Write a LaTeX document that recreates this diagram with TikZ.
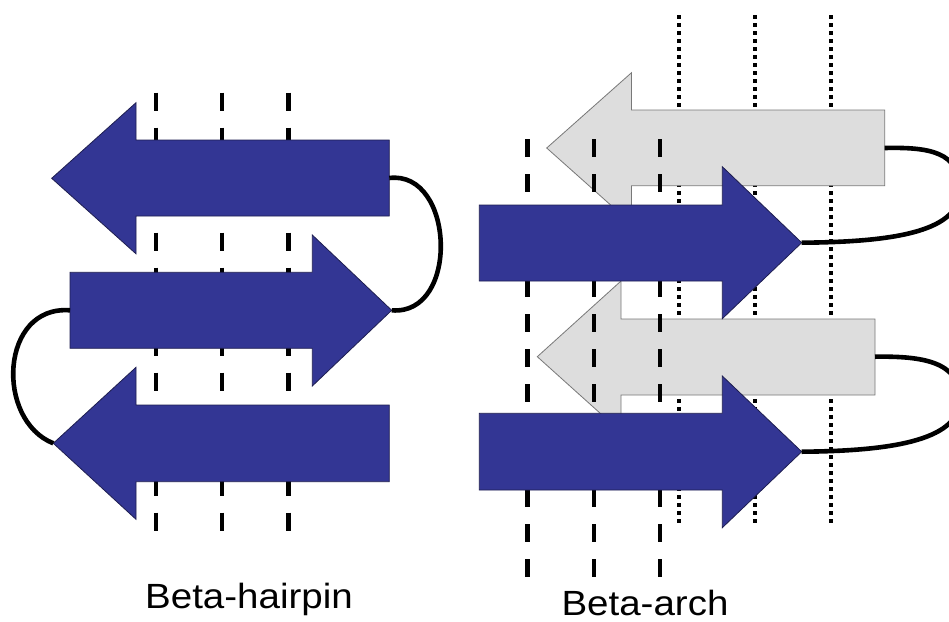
\documentclass[tikz,border=0pt]{standalone}
\usepackage{fontspec}
\setmainfont{Liberation Sans}
\definecolor{strandblue}{RGB}{51,54,148}
\definecolor{strandedge}{RGB}{30,30,80}
\definecolor{strandgray}{RGB}{221,221,221}
\definecolor{grayedge}{RGB}{120,120,120}
\begin{document}
\begin{tikzpicture}[x=1pt,y=-1pt,
  bluestrand/.style={fill=strandblue, draw=strandedge, line width=0.8pt, line join=miter},
  graystrand/.style={fill=strandgray, draw=grayedge, line width=0.8pt, line join=miter},
  loopline/.style={line width=4.6pt, draw=black},
  dashline/.style={line width=4.4pt, dash pattern=on 18pt off 17pt},
  dotline/.style={line width=4pt, dash pattern=on 4pt off 4pt},
  captiontext/.style={anchor=base, inner sep=0pt, font=\fontsize{35}{40}\selectfont}]
\useasboundingbox (0,0) rectangle (949,621);
\clip (0,0) rectangle (949,621);
\fill[white] (0,0) rectangle (949,621);

% ---------------- Beta-hairpin ----------------
\foreach \xx in {155.7,221.7,288.3}
  \draw[dashline] (\xx,92.7) -- (\xx,533.3);

% top strand, pointing left
\draw[bluestrand] (389.3,140) -- (136,140) -- (136,102.7) -- (51.7,178.3)
  -- (136,253.8) -- (136,216) -- (389.3,216) -- cycle;
\coordinate (h1end) at (389.3,178);
% middle strand, pointing right
\draw[bluestrand] (70,272.3) -- (312.3,272.3) -- (312.3,235) -- (391.7,310.3)
  -- (312.3,386) -- (312.3,348.3) -- (70,348.3) -- cycle;
\coordinate (h2tip) at (391.7,310.3);
\coordinate (h2start) at (70,310.3);
% bottom strand, pointing left
\draw[bluestrand] (389.3,405) -- (136,405) -- (136,367.3) -- (53.3,443.3)
  -- (136,519.3) -- (136,481.7) -- (389.3,481.7) -- cycle;
\coordinate (h3tip) at (53.3,443.3);

\draw[loopline] (h1end) .. controls (455,170) and (460,316) .. (h2tip);
\draw[loopline] (h2start) .. controls (0,305) and (-5,420) .. (h3tip);

% ---------------- Beta-arch ----------------
\foreach \xx in {679,755,830.7}
  \draw[dotline] (\xx,15) -- (\xx,526.7);

% upper gray strand, pointing left
\draw[graystrand] (884.7,110) -- (631.5,110) -- (631.5,72.7) -- (546.7,148)
  -- (631.5,223.6) -- (631.5,185.7) -- (884.7,185.7) -- cycle;
\coordinate (g1end) at (884.7,148);
% lower gray strand, pointing left
\draw[graystrand] (875,319) -- (621,319) -- (621,281) -- (537.3,356.7)
  -- (621,432) -- (621,395) -- (875,395) -- cycle;
\coordinate (g2end) at (875,356.7);

\foreach \xx in {527.3,594,660}
  \draw[dashline] (\xx,139.3) -- (\xx,580);

% upper blue strand, pointing right
\draw[bluestrand] (479.3,205) -- (722.3,205) -- (722.3,166.7) -- (801.7,242.7)
  -- (722.3,318.7) -- (722.3,281) -- (479.3,281) -- cycle;
\coordinate (b1tip) at (801.7,242.7);
% lower blue strand, pointing right
\draw[bluestrand] (479.3,413.3) -- (722.3,413.3) -- (722.3,376) -- (801.7,451.7)
  -- (722.3,527.7) -- (722.3,490) -- (479.3,490) -- cycle;
\coordinate (b2tip) at (801.7,451.7);

\coordinate (r1mid) at (960,190);
\coordinate (r2mid) at (960,399);
\draw[loopline] (g1end) .. controls (930,147) and (960,152) .. (r1mid)
  .. controls (960,230) and (900,242) .. (b1tip);
\draw[loopline] (g2end) .. controls (921,356) and (960,361) .. (r2mid)
  .. controls (960,438) and (900,451) .. (b2tip);

% ---------------- captions ----------------
\node[captiontext] (cap1) at (249,608.3) {\scalebox{1.1}[1]{Beta-hairpin}};
\node[captiontext] (cap2) at (645,615) {\scalebox{1.1}[1]{Beta-arch}};
\end{tikzpicture}
\end{document}
